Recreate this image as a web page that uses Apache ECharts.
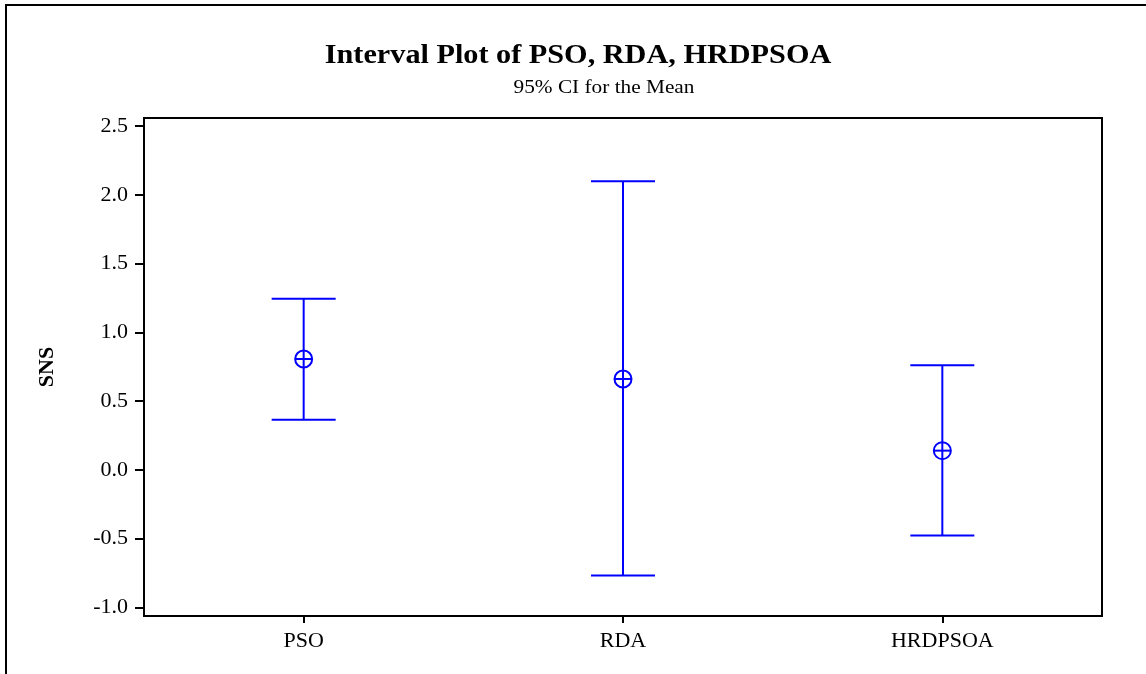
<!DOCTYPE html>
<html>
<head>
<meta charset="utf-8">
<script src="https://cdn.jsdelivr.net/npm/echarts@6/dist/echarts.min.js"></script>
<style>
html,body{margin:0;padding:0;background:#fff;}
#chart{width:1146px;height:674px;}
</style>
</head>
<body>
<div id="chart"></div>
<script>
const categories = ['PSO', 'RDA', 'HRDPSOA'];
const means = [0.806, 0.661, 0.140];
const lowers = [0.365, -0.768, -0.477];
const uppers = [1.244, 2.099, 0.760];
const yTicks = [-1.0, -0.5, 0.0, 0.5, 1.0, 1.5, 2.0, 2.5];
const titleText = 'Interval Plot of PSO, RDA, HRDPSOA';
const subtitleText = '95% CI for the Mean';
const yName = 'SNS';

const seriesData = categories.map((c, i) => [i, lowers[i], uppers[i], means[i]]);

const chart = echarts.init(document.getElementById('chart'), null, {renderer: 'canvas'});
const font = '"Liberation Serif", "Times New Roman", serif';
const BLUE = '#0000FF';

chart.setOption({
  animation: false,
  backgroundColor: '#fff',
  graphic: [{
    type: 'polyline',
    shape: {points: [[6, 674], [6, 5], [1146, 5]]},
    style: {stroke: '#000', lineWidth: 2, fill: null},
    silent: true
  }, {
    type: 'text',
    x: 578, y: 56,
    scaleX: 1.12,
    style: {text: titleText, x: 0, y: 0, align: 'center', verticalAlign: 'middle',
      font: 'bold 27px ' + font, fill: '#000'},
    silent: true
  }, {
    type: 'text',
    x: 604, y: 88,
    scaleX: 1.12,
    style: {text: subtitleText, x: 0, y: 0, align: 'center', verticalAlign: 'middle',
      font: '19px ' + font, fill: '#000'},
    silent: true
  }],
  grid: {
    left: 144, right: 44, top: 118, bottom: 58,
    show: true, borderColor: '#000', borderWidth: 2, backgroundColor: 'transparent'
  },
  xAxis: {
    type: 'category',
    data: categories,
    boundaryGap: true,
    axisLine: {onZero: false, lineStyle: {color: '#000', width: 2}},
    axisTick: {show: true, alignWithLabel: true, interval: 0, length: 7, lineStyle: {color: '#000', width: 2}},
    axisLabel: {fontFamily: font, fontSize: 22, color: '#000', margin: 14},
    splitLine: {show: false}
  },
  yAxis: {
    type: 'value',
    min: -1.062,
    max: 2.558,
    name: yName,
    nameLocation: 'middle',
    nameRotate: 90,
    nameGap: 86,
    nameTextStyle: {fontFamily: font, fontSize: 22, fontWeight: 'bold', color: '#000'},
    axisLine: {show: true, lineStyle: {color: '#000', width: 2}},
    axisTick: {show: true, length: 9, customValues: yTicks, lineStyle: {color: '#000', width: 2}},
    axisLabel: {
      fontFamily: font, fontSize: 22, color: '#000', margin: 16,
      customValues: yTicks,
      formatter: v => Number(v).toFixed(1)
    },
    splitLine: {show: false}
  },
  series: [{
    type: 'custom',
    data: seriesData,
    encode: {x: 0, y: [1, 2, 3]},
    renderItem: function (params, api) {
      const x = api.value(0);
      const lo = api.coord([x, api.value(1)]);
      const hi = api.coord([x, api.value(2)]);
      const mid = api.coord([x, api.value(3)]);
      const hw = 32, r = 8.5;
      const st = {stroke: BLUE, lineWidth: 2, fill: null};
      return {
        type: 'group',
        children: [
          {type: 'line', shape: {x1: lo[0], y1: lo[1], x2: hi[0], y2: hi[1]}, style: st},
          {type: 'line', shape: {x1: lo[0] - hw, y1: lo[1], x2: lo[0] + hw, y2: lo[1]}, style: st},
          {type: 'line', shape: {x1: hi[0] - hw, y1: hi[1], x2: hi[0] + hw, y2: hi[1]}, style: st},
          {type: 'circle', shape: {cx: mid[0], cy: mid[1], r: r}, style: st},
          {type: 'line', shape: {x1: mid[0] - r, y1: mid[1], x2: mid[0] + r, y2: mid[1]}, style: st}
        ]
      };
    }
  }]
});
</script>
</body>
</html>
